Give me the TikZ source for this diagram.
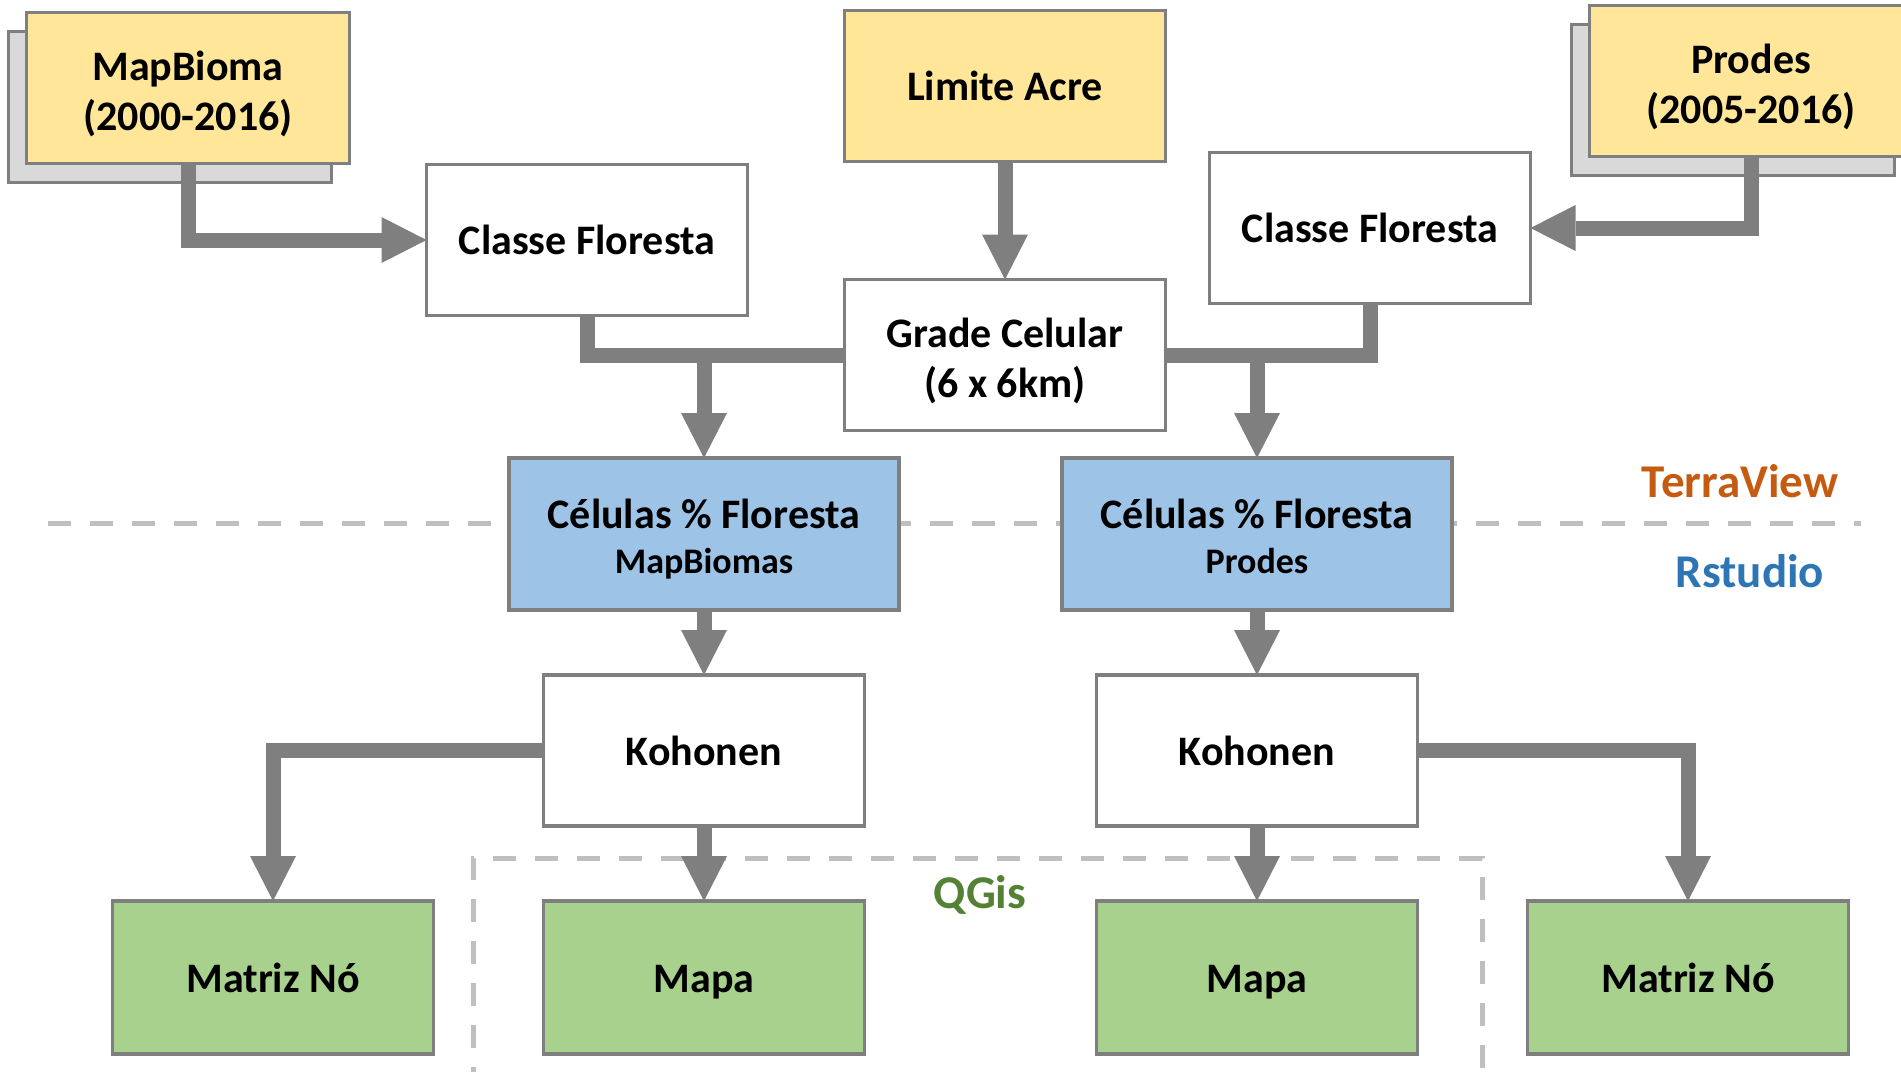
\documentclass[tikz,border=0pt]{standalone}
\usepackage{fontspec}
\setmainfont{Carlito}
\usetikzlibrary{positioning,arrows.meta}
\definecolor{boxgray}{HTML}{7F7F7F}
\definecolor{stackgray}{HTML}{D9D9D9}
\definecolor{sepgray}{HTML}{BFBFBF}
\definecolor{srcyellow}{HTML}{FFE699}
\definecolor{cellblue}{HTML}{9DC3E6}
\definecolor{resgreen}{HTML}{A9D18E}
\definecolor{tvorange}{HTML}{C55A11}
\definecolor{rsblue}{HTML}{2E75B6}
\definecolor{qggreen}{HTML}{548235}
\newcommand{\hdstrut}[1]{\rule{0pt}{#1}}

\begin{document}
\begin{tikzpicture}[x=1pt,y=-1pt,
				every node/.style={font=\fontsize{42}{50}\selectfont\bfseries},
				block/.style={draw=boxgray,line width=3.5pt,fill=white,minimum width=321pt,minimum height=151pt,
					inner sep=0pt,outer sep=0pt,align=center,node distance=0pt},
				oneline/.style={text height=29pt,text depth=0pt},
				source/.style={block,fill=srcyellow,minimum width=323pt},
				stack/.style={block,fill=stackgray,minimum width=323pt},
				cell/.style={block,fill=cellblue,minimum width=390pt,minimum height=152pt},
				result/.style={block,oneline,fill=resgreen,minimum height=153pt},
				tool/.style={font=\fontsize{47}{56}\selectfont\bfseries},
				sep/.style={draw=sepgray,line width=5pt,dash pattern=on 23pt off 19pt},
				link/.style={draw=boxgray,line width=15pt},
				flow/.style={link,-{Triangle[width=46pt,length=45pt,line width=0pt]}}]
				\useasboundingbox (0,0) rectangle (1901,1071);
				
				% separators between the tools
				\draw[sep] (48,523.5) -- (1861,523.5);
				\draw[sep] (473,1090) -- (473,858) -- (1482,858) -- (1482,1090);
				
				\node (MBS)  [stack]                         at (170,107)  {};
				\node (MB)   [source]                        at ([shift={(18,-19)}]MBS) {\hdstrut{41pt}MapBioma\\(2000-2016)};
				\node (PRS)  [stack]                         at (1733,100) {};
				\node (PR)   [source]                        at ([shift={(18,-19)}]PRS) {\hdstrut{41pt}Prodes\\(2005-2016)};
				\node (LA)   [source,oneline,minimum width=321pt] at (1005,86) {Limite Acre};
				\node (GRID) [block,below=118pt of LA]                     {\hdstrut{42pt}Grade Celular\\(6 x 6km)};
				\node (CF1)  [block,oneline]                 at (587,240)  {Classe Floresta};
				\node (CF2)  [block,oneline]                 at (1370,228) {Classe Floresta};
				\node (CEL1) [cell]                          at (704,534)  {\hdstrut{39pt}Células \% Floresta\\[-5pt]{\fontsize{36}{42}\selectfont MapBiomas}};
				\node (CEL2) [cell]                          at (1257,534) {\hdstrut{39pt}Células \% Floresta\\[-5pt]{\fontsize{36}{42}\selectfont Prodes\vphantom{p}}};
				\node (KOH1) [block,oneline,below=65pt of CEL1]            {Kohonen};
				\node (KOH2) [block,oneline,below=65pt of CEL2]            {Kohonen};
				\node (MAP1) [result,below=75pt of KOH1]                   {Mapa};
				\node (MAP2) [result,below=75pt of KOH2]                   {Mapa};
				\node (MAT1) [result,left=110pt of MAP1]                   {Matriz Nó};
				\node (MAT2) [result,right=110pt of MAP2]                  {Matriz Nó};
				
				\node (TV) [tool,text=tvorange] at (1740,481) {TerraView};
				\node (RS) [tool,text=rsblue]   at (1750,571) {Rstudio};
				\node (QG) [tool,text=qggreen]  at (980,895)  {QGis};
				
				\draw[flow] (MB.south) |- (CF1.west);
				\draw[flow] (PR.south) |- (CF2.east);
				\draw[flow] (LA) -- (GRID);
				\draw[link] (CF1.south) |- (GRID.west);
				\draw[link] (CF2.south) |- (GRID.east);
				\draw[flow] (GRID.west) -| (CEL1.north);
				\draw[flow] (GRID.east) -| (CEL2.north);
				\draw[flow] (CEL1) -- (KOH1);
				\draw[flow] (CEL2) -- (KOH2);
				\draw[flow] (KOH1) -- (MAP1);
				\draw[flow] (KOH2) -- (MAP2);
				\draw[flow] (KOH1.west) -| (MAT1.north);
				\draw[flow] (KOH2.east) -| (MAT2.north);
			\end{tikzpicture}
\end{document}
